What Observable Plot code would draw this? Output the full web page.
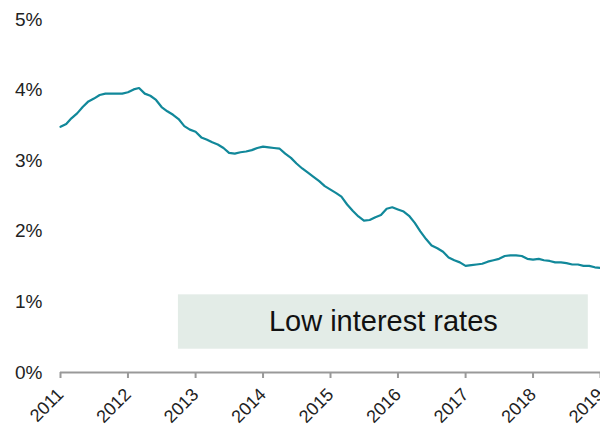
<!DOCTYPE html>
<html>
<head>
<meta charset="utf-8">
<script src="https://cdn.jsdelivr.net/npm/d3@7"></script>
<script src="https://cdn.jsdelivr.net/npm/@observablehq/plot@0.6"></script>
<style>
  html, body { margin: 0; padding: 0; background: #fff; }
  #chart svg { display: block; }
</style>
</head>
<body>
<div id="chart"></div>
<script>
// Monthly rate (%) starting January 2011
const startYear = 2011;
const rates = [
  3.48, 3.52, 3.60, 3.67, 3.76, 3.84, 3.88, 3.93, 3.95, 3.95, 3.95, 3.95,
  3.97, 4.01, 4.03, 3.95, 3.92, 3.86, 3.76, 3.70, 3.65, 3.59, 3.49, 3.44,
  3.41, 3.33, 3.30, 3.26, 3.23, 3.18, 3.11, 3.10, 3.12, 3.13, 3.15, 3.18,
  3.20, 3.19, 3.18, 3.17, 3.10, 3.04, 2.96, 2.89, 2.83, 2.77, 2.71, 2.64,
  2.59, 2.54, 2.49, 2.38, 2.29, 2.21, 2.15, 2.16, 2.20, 2.23, 2.32, 2.34,
  2.31, 2.28, 2.22, 2.12, 2.00, 1.89, 1.80, 1.76, 1.71, 1.63, 1.59, 1.56,
  1.51, 1.52, 1.53, 1.54, 1.57, 1.59, 1.61, 1.65, 1.66, 1.66, 1.65, 1.61,
  1.60, 1.61, 1.59, 1.58, 1.56, 1.56, 1.55, 1.53, 1.53, 1.51, 1.51, 1.49,
  1.48
];
const yTicks = [0, 1, 2, 3, 4, 5];
const xTickYears = [2011, 2012, 2013, 2014, 2015, 2016, 2017, 2018, 2019];
const annotation = [{label: "Low interest rates", start: "2012-09-30", end: "2018-10-27", low: 0.33, high: 1.1}];

const data = rates.map((v, i) => ({date: new Date(Date.UTC(startYear, i, 1)), rate: v}));
const ann = annotation.map(d => ({...d, start: new Date(d.start + "T00:00:00Z"), end: new Date(d.end + "T00:00:00Z")}));
ann.forEach(d => { d.mid = new Date((d.start.getTime() + d.end.getTime()) / 2); d.midY = (d.low + d.high) / 2; });

const font = "'Liberation Sans', Arial, Helvetica, sans-serif";

const chart = Plot.plot({
  width: 600,
  height: 429,
  marginLeft: 60,
  marginRight: 0,
  marginTop: 19,
  marginBottom: 57,
  style: {fontFamily: font, fontSize: "18px", color: "#222", background: "#fff"},
  x: {type: "utc", domain: [new Date(Date.UTC(2011, 0, 1)), new Date(Date.UTC(2019, 0, 1))]},
  y: {domain: [0, 5]},
  marks: [
    Plot.rect(ann, {x1: "start", x2: "end", y1: "low", y2: "high", fill: "#e3ece7"}),
    Plot.text(ann, {x: "mid", y: "midY", text: "label", fontSize: 29, fill: "#111", fontFamily: font}),
    Plot.ruleY([0], {stroke: "#999", strokeWidth: 2}),
    Plot.axisY({ticks: yTicks, tickSize: 0, tickPadding: 18, tickFormat: d => d + "%", label: null, fill: "#222", fontSize: 19}),
    Plot.axisX({
      ticks: xTickYears.map(y => new Date(Date.UTC(y, 0, 1))),
      tickFormat: d => String(d.getUTCFullYear()),
      tickSize: 6, tickRotate: -45, tickPadding: 13, stroke: "#999", strokeWidth: 2, label: null, fill: "#222", fontSize: 18
    }),
    Plot.line(data, {x: "date", y: "rate", stroke: "#11889a", strokeWidth: 2.2})
  ]
});
document.getElementById("chart").append(chart);
</script>
</body>
</html>
